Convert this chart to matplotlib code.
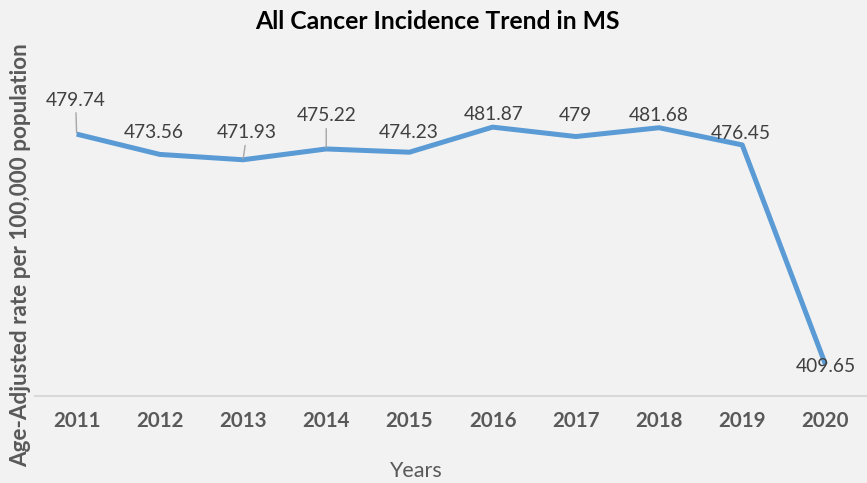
import numpy as np
import matplotlib
matplotlib.use("Agg")
import matplotlib.pyplot as plt

# data
years = ["2011", "2012", "2013", "2014", "2015", "2016", "2017", "2018", "2019", "2020"]
rates = [479.74, 473.56, 471.93, 475.22, 474.23, 481.87, 479, 481.68, 476.45, 409.65]
labels = ["479.74", "473.56", "471.93", "475.22", "474.23", "481.87", "479", "481.68", "476.45", "409.65"]

# label offsets in pixels (dx, dy) and whether a leader line is drawn
offsets = [(-1, 34), (-6, 22), (4, 27), (0, 33), (-1, 20), (1, 13), (0, 21), (0, 12), (-1, 11), (0, -2)]
leaders = [True, False, True, True, False, False, False, False, False, False]

BG = "#F2F2F2"
LINE = "#5B9BD5"

plt.rcParams["font.family"] = ["Lato", "DejaVu Sans"]

fig = plt.figure(figsize=(8.67, 4.83), dpi=100, facecolor=BG)
ax = fig.add_axes([0.0404, 0.1801, 0.9596, 0.612], facecolor=BG)

x = np.arange(len(years))
ax.plot(x, rates, color=LINE, linewidth=3.6, solid_joinstyle="round", solid_capstyle="butt")

for i in range(len(x)):
    arrow = None
    if leaders[i]:
        arrow = dict(arrowstyle="-", color="#A6A6A6", lw=1.0, shrinkA=1, shrinkB=1)
    ax.annotate(labels[i], xy=(x[i], rates[i]), xytext=offsets[i],
                textcoords="offset pixels", ha="center", va="center",
                fontsize=13.8, color="#404040", arrowprops=arrow)

ax.set_xlim(-0.5, len(years) - 0.5)
ax.set_ylim(400, 490)
ax.set_xticks(x)
ax.set_xticklabels(years, fontsize=14.8, fontweight="bold", color="#595959")
ax.set_yticks([])
ax.tick_params(axis="x", length=0, pad=11)

for s in ["top", "right", "left"]:
    ax.spines[s].set_visible(False)
ax.spines["bottom"].set_color("#D9D9D9")
ax.spines["bottom"].set_linewidth(1.5)

fig.text(0.505, 0.955, "All Cancer Incidence Trend in MS", ha="center", va="center",
         fontsize=17.8, fontweight="bold", color="black")
fig.text(0.479, 0.025, "Years", ha="center", va="center", fontsize=15.5, color="#595959")
fig.text(0.024, 0.472, "Age-Adjusted rate per 100,000 population", ha="center", va="center",
         rotation=90, fontsize=16.2, fontweight="bold", color="#595959")

fig.savefig("out.png", dpi=100, facecolor=BG)
